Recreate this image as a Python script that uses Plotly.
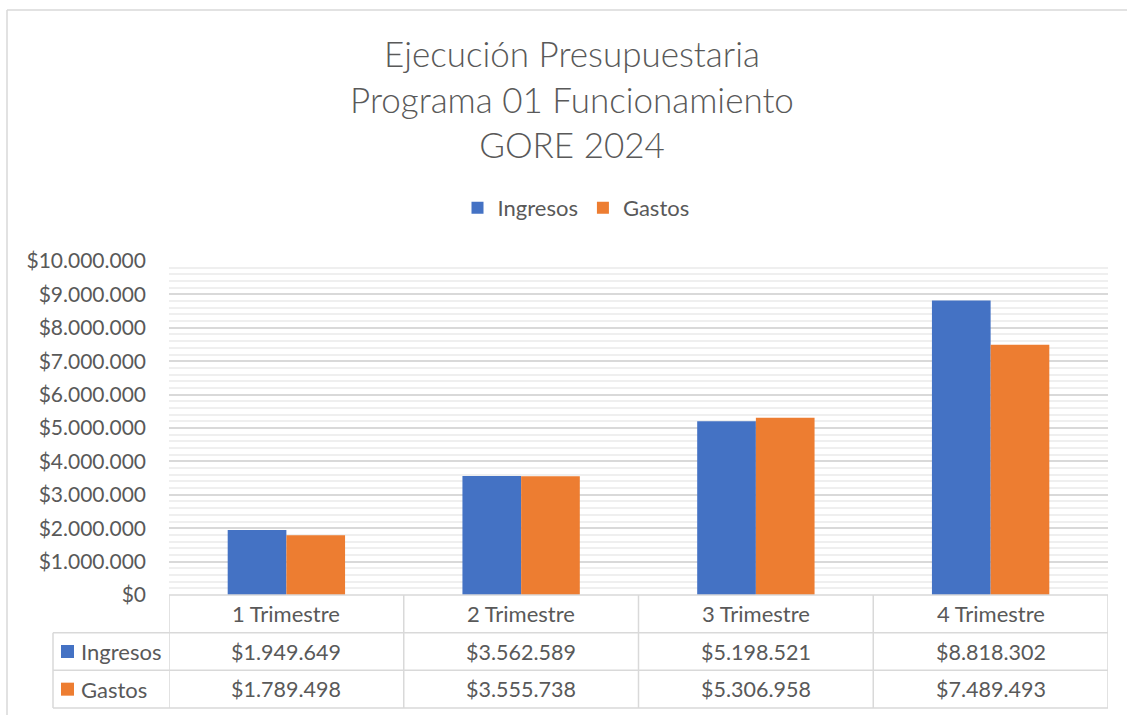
import plotly.graph_objects as go

categories = ["1 Trimestre", "2 Trimestre", "3 Trimestre", "4 Trimestre"]
ingresos = [1949649, 3562589, 5198521, 8818302]
gastos = [1789498, 3555738, 5306958, 7489493]
series_names = ["Ingresos", "Gastos"]
title_lines = ["Ejecución Presupuestaria", "Programa 01 Funcionamiento", "GORE 2024"]

BLUE = "#4472C4"
ORANGE = "#ED7D31"
TXT = "#595959"
LINE = "#D9D9D9"
FONT = "Lato, 'Open Sans', sans-serif"

W, H = 1127, 715
L, R, T, B = 169, 19, 261, 7
plot_w = W - L - R
plot_h = H - T - B
ydom0 = (H - B - 595) / plot_h          # bottom of bar area (top of table)
row_h = ydom0 / 3
lab_x = (53 - L) / plot_w                # left edge of row-label column

def fmt(v):
    return "$" + f"{v:,}".replace(",", ".")

fig = go.Figure()
for name, vals, col in [(series_names[0], ingresos, BLUE), (series_names[1], gastos, ORANGE)]:
    fig.add_trace(go.Bar(x=categories, y=vals, name=name, marker=dict(color=col, line=dict(width=0))))

shapes = []
annotations = []
n = len(categories)
ln = dict(color=LINE, width=1.5)
# vertical table lines
for i in range(n + 1):
    shapes.append(dict(type="line", xref="x", yref="paper", x0=i - 0.5, x1=i - 0.5,
                       y0=0, y1=ydom0, line=ln))
# horizontal table lines
shapes.append(dict(type="line", xref="paper", yref="paper", x0=0, x1=1, y0=ydom0, y1=ydom0, line=ln))
for k in [2, 1, 0]:
    shapes.append(dict(type="line", xref="paper", yref="paper", x0=lab_x, x1=1, y0=row_h * k, y1=row_h * k,
                       line=ln))
shapes.append(dict(type="line", xref="paper", yref="paper", x0=lab_x, x1=lab_x, y0=0, y1=row_h * 2, line=ln))
# chart frame (left and top)
fx = (7 - L) / plot_w
fy = (H - B - 10) / plot_h
shapes.append(dict(type="line", xref="paper", yref="paper", x0=fx, x1=fx, y0=-0.05, y1=fy, line=ln))
shapes.append(dict(type="line", xref="paper", yref="paper", x0=fx, x1=1.05, y0=fy, y1=fy, line=ln))

# header row
for c in categories:
    annotations.append(dict(x=c, xref="x", yref="paper", y=ydom0 - row_h / 2, text=c, showarrow=False,
                            font=dict(family=FONT, size=22, color=TXT), xanchor="center", yanchor="middle"))
# value rows
for r, (name, vals, col) in enumerate([(series_names[0], ingresos, BLUE), (series_names[1], gastos, ORANGE)]):
    yc = row_h * (2 - r) - row_h / 2
    for c, v in zip(categories, vals):
        annotations.append(dict(x=c, xref="x", yref="paper", y=yc, text=fmt(v), showarrow=False,
                                font=dict(family=FONT, size=21.5, color=TXT), xanchor="center", yanchor="middle"))
    sx0 = (61 - L) / plot_w
    sx1 = (74 - L) / plot_w
    shapes.append(dict(type="rect", xref="paper", yref="paper", x0=sx0, x1=sx1,
                       y0=yc - 6.5 / plot_h, y1=yc + 6.5 / plot_h, fillcolor=col, line=dict(width=0)))
    annotations.append(dict(x=(79 - L) / plot_w, xref="paper", yref="paper", y=yc, text=name,
                            showarrow=False, font=dict(family=FONT, size=22, color=TXT),
                            xanchor="left", yanchor="middle"))

fig.update_layout(
    width=W, height=H,
    margin=dict(l=L, r=R, t=T, b=B, autoexpand=False),
    paper_bgcolor="white", plot_bgcolor="white",
    separators=",.",
    barmode="group", bargap=0.5, bargroupgap=0,
    title=dict(text="<br>".join(title_lines), x=572 / W, xanchor="center", xref="container",
               y=1 - 67 / H, yanchor="middle", yref="container",
               font=dict(family=FONT, size=35, color=TXT, weight=300)),
    legend=dict(orientation="h", x=(576 - L) / plot_w, xanchor="center",
                y=(H - B - 208) / plot_h, yanchor="middle",
                font=dict(family=FONT, size=22, color=TXT), itemwidth=30),
    xaxis=dict(showticklabels=False, showgrid=False, zeroline=False, showline=False,
               range=[-0.5, n - 0.5], fixedrange=True),
    yaxis=dict(domain=[ydom0, 1], range=[0, 10000000], dtick=1000000, tick0=0,
               tickprefix="$", tickformat=",d", showgrid=True, gridcolor=LINE, gridwidth=1.5,
               zeroline=False, showline=False, ticklabelstandoff=22,
               tickfont=dict(family=FONT, size=21, color=TXT),
               minor=dict(dtick=200000, showgrid=True, gridcolor="#EFEFEF", gridwidth=1.5)),
    shapes=shapes, annotations=annotations,
    showlegend=True,
)

css = "margin:0;padding:0;overflow:hidden;height:715px;width:1127px"
fig.write_html(
    "out.html",
    config={"displayModeBar": False},
    post_script=("document.documentElement.style.cssText='" + css + "';"
                 "document.body.style.cssText='" + css + "';"),
)
